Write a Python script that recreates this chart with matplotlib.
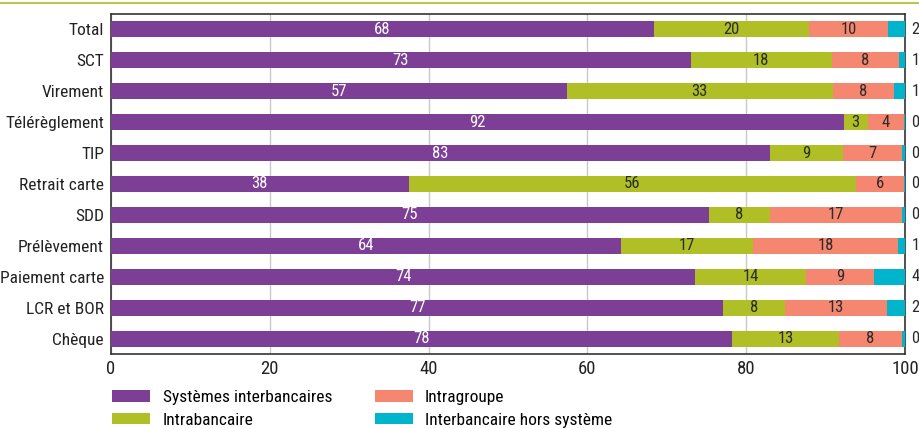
import matplotlib
matplotlib.use("Agg")
import matplotlib.pyplot as plt
from matplotlib.patches import Patch
from matplotlib.lines import Line2D

plt.rcParams["font.family"] = ["Roboto Condensed", "Archivo Narrow", "DejaVu Sans"]

# ---- data (percent) ----
categories = ["Total", "SCT", "Virement", "Télérèglement", "TIP", "Retrait carte",
              "SDD", "Prélèvement", "Paiement carte", "LCR et BOR", "Chèque"]
interbank_sys = [68.4, 73.0, 57.4, 92.3, 83.0, 37.5, 75.3, 64.2, 73.6, 77.1, 78.2]
intrabank = [19.5, 17.8, 33.5, 3.0, 9.2, 56.3, 7.7, 16.7, 13.9, 7.8, 13.5]
intragroup = [10.0, 8.4, 7.7, 4.6, 7.4, 6.1, 16.6, 18.2, 8.6, 12.8, 7.9]
interbank_off = [2.1, 0.8, 1.4, 0.1, 0.4, 0.1, 0.4, 0.9, 3.9, 2.3, 0.4]

lbl_sys = [68, 73, 57, 92, 83, 38, 75, 64, 74, 77, 78]
lbl_intra = [20, 18, 33, 3, 9, 56, 8, 17, 14, 8, 13]
lbl_group = [10, 8, 8, 4, 7, 6, 17, 18, 9, 13, 8]
lbl_off = [2, 1, 1, 0, 0, 0, 0, 1, 4, 2, 0]

series = ["Systèmes interbancaires", "Intrabancaire", "Intragroupe", "Interbancaire hors système"]
colors = ["#7d3e96", "#afbf25", "#f5866f", "#00b4cb"]

fig = plt.figure(figsize=(9.2, 4.28), dpi=100)
ax = fig.add_axes([0.1207, 0.1729, 0.863, 0.7944])

# green rule at top of the figure
fig.add_artist(Line2D([0, 1], [0.993, 0.993], color="#b8c64e", lw=1.5, transform=fig.transFigure))

y = list(range(len(categories)))
left = [0.0] * len(categories)
values = [interbank_sys, intrabank, intragroup, interbank_off]
labels = [lbl_sys, lbl_intra, lbl_group, None]
for k, (vals, col) in enumerate(zip(values, colors)):
    ax.barh(y, vals, left=left, height=0.52, color=col, zorder=3)
    if labels[k] is not None:
        tcol = "white" if k == 0 else "#2b2b2b"
        for i, v in enumerate(vals):
            ax.text(left[i] + v / 2, i, str(labels[k][i]), ha="center", va="center",
                    color=tcol, fontsize=12, zorder=4)
    left = [a + b for a, b in zip(left, vals)]

for i, v in enumerate(lbl_off):
    ax.text(100.8, i, str(v), ha="left", va="center", fontsize=12, color="#2b2b2b",
            clip_on=False)

ax.set_xlim(0, 100)
ax.set_ylim(len(categories) - 0.5, -0.5)
ax.set_yticks(y)
ax.set_yticklabels(categories, fontsize=12.5, color="#222222")
ax.set_xticks([0, 20, 40, 60, 80, 100])
ax.tick_params(axis="x", labelsize=13.5, length=0, pad=4, colors="#222222")
ax.tick_params(axis="y", length=0, pad=5)
ax.grid(axis="x", color="#c8c8c8", lw=1, zorder=0)
for s in ax.spines.values():
    s.set_color("#333333")
    s.set_linewidth(1.2)

handles = [Patch(facecolor=c, edgecolor="none") for c in colors]
fig.legend(handles, series,
           loc="upper left", bbox_to_anchor=(0.122, 0.089), ncol=2, frameon=False,
           fontsize=12.5, handlelength=2.2, handleheight=0.65, handletextpad=0.7,
           columnspacing=2.45, labelspacing=0.45, borderaxespad=0, borderpad=0)

fig.savefig("out.png", dpi=100)
